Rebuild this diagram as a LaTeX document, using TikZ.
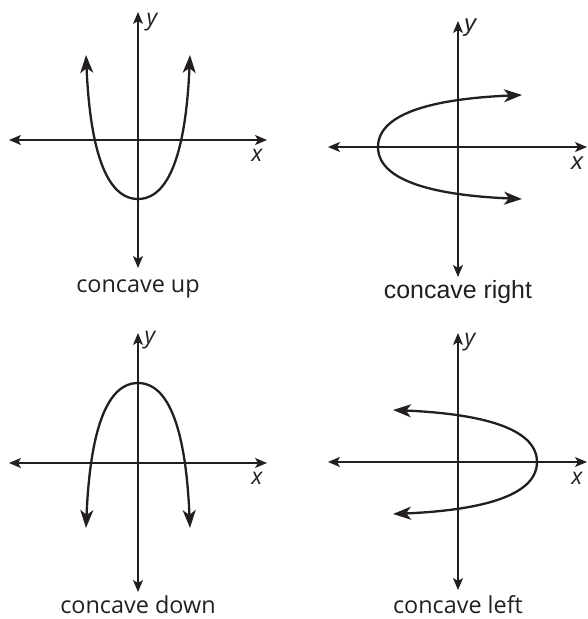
\documentclass[tikz,border=0pt]{standalone}
\usepackage{fontspec}
\setmainfont{Open Sans}
\newfontfamily\arialfont{Liberation Sans}
\usetikzlibrary{arrows.meta}
\definecolor{ink}{HTML}{231F20}
\tikzset{
  axisline/.style={line width=1.3pt, draw=ink,
    {Stealth[length=12pt,width=10pt,inset=3pt]}-{Stealth[length=12pt,width=10pt,inset=3pt]}},
  parab/.style={line width=2.3pt, draw=ink,
    {Stealth[length=18pt,width=13pt,inset=5pt]}-{Stealth[length=18pt,width=13pt,inset=5pt]}},
  lbl/.style={text=ink, font=\fontsize{23}{28}\selectfont\itshape},
  captext/.style={text=ink, inner sep=0pt, font=\fontsize{23.4}{28}\selectfont}
}
\begin{document}
\begin{tikzpicture}[x=1pt, y=1pt]
    \useasboundingbox (0,0) rectangle (587,619);
    % concave up
    \begin{scope}[shift={(138,479)}]
        \draw[axisline] (-129,0) -- (129,0);
        \draw[axisline] (0,-128) -- (0,128);
        \draw[parab] (-52,85) .. controls (-49,15) and (-39,-59) .. (0,-59)
            .. controls (39,-59) and (49,15) .. (52,85);
        \node[lbl] (y1) at (14,118) {y};
        \node[lbl] (x1) at (119,-15) {x};
        \node[captext] (c1) at (0,-149) {concave up};
    \end{scope}
    % concave right
    \begin{scope}[shift={(458,472)}]
        \draw[axisline] (-130,0) -- (129,0);
        \draw[axisline] (0,-130) -- (0,126);
        \draw[parab] (64,52) .. controls (-6,49) and (-80,39) .. (-80,0)
            .. controls (-80,-39) and (-6,-49) .. (64,-52);
        \node[lbl, font=\fontsize{24}{28}\selectfont\arialfont\itshape] (y2) at (12,119) {y};
        \node[lbl, font=\fontsize{24}{28}\selectfont\arialfont\itshape] (x2) at (119,-16) {x};
        \node[captext, font=\fontsize{24.9}{28}\selectfont\arialfont] (c2) at (0,-145) {concave right};
    \end{scope}
    % concave down
    \begin{scope}[shift={(138,156)}]
        \draw[axisline] (-129,0) -- (129,0);
        \draw[axisline] (0,-129) -- (0,130);
        \draw[parab] (-52,-65) .. controls (-49,6) and (-39,80) .. (0,80)
            .. controls (39,80) and (49,6) .. (52,-65);
        \node[lbl] (y3) at (12,123) {y};
        \node[lbl] (x3) at (119,-15) {x};
        \node[captext] (c3) at (0,-141.5) {concave down};
    \end{scope}
    % concave left
    \begin{scope}[shift={(458,157)}]
        \draw[axisline] (-130,0) -- (129,0);
        \draw[axisline] (0,-128) -- (0,129);
        \draw[parab] (-65,52) .. controls (5,49) and (79,39) .. (79,0)
            .. controls (79,-39) and (5,-49) .. (-65,-52);
        \node[lbl] (y4) at (12,120) {y};
        \node[lbl] (x4) at (119,-16) {x};
        \node[captext] (c4) at (0,-142.5) {concave left};
    \end{scope}
\end{tikzpicture}
\end{document}
